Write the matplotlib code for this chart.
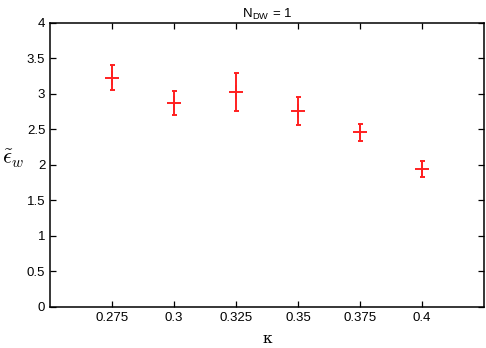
import matplotlib
matplotlib.use("Agg")
import matplotlib.pyplot as plt

kappa = [0.275, 0.3, 0.325, 0.35, 0.375, 0.4]
eps_w = [3.23, 2.87, 3.03, 2.76, 2.46, 1.94]
eps_err = [0.18, 0.17, 0.27, 0.20, 0.12, 0.115]
xticks = [0.275, 0.3, 0.325, 0.35, 0.375, 0.4]
xticklabels = ["0.275", "0.3", "0.325", "0.35", "0.375", "0.4"]
yticks = [0, 0.5, 1, 1.5, 2, 2.5, 3, 3.5, 4]
yticklabels = ["0", "0.5", "1", "1.5", "2", "2.5", "3", "3.5", "4"]

plt.rcParams['font.family'] = ['Liberation Sans', 'DejaVu Sans']
plt.rcParams['mathtext.fontset'] = 'cm'

fig = plt.figure(figsize=(4.86, 3.48), dpi=100)
ax = fig.add_axes([0.103, 0.118, 0.893, 0.816])

ax.errorbar(kappa, eps_w, yerr=eps_err, fmt='+', color='#ff2020', markersize=10,
            markeredgewidth=1.4, elinewidth=1.4, capsize=1.8, capthick=1.4)

ax.set_xlim(0.25, 0.425)
ax.set_ylim(0, 4)
ax.set_xticks(xticks)
ax.set_xticklabels(xticklabels)
ax.set_yticks(yticks)
ax.set_yticklabels(yticklabels)
ax.tick_params(direction='in', length=4, width=0.9, top=True, right=True, labelsize=9.5)
for s in ax.spines.values():
    s.set_linewidth(1.1)

ax.set_title(r"N$_{\mathregular{DW}}$ = 1", fontsize=9.5, pad=4)
ax.set_xlabel("κ", fontsize=11, family=['DejaVu Serif'], labelpad=6)
ax.set_ylabel(r"$\tilde{\epsilon}_w$", fontsize=16, rotation=0, va='center', ha='center')
ax.yaxis.set_label_coords(-0.085, 0.52)

fig.savefig("out.png", dpi=100)
